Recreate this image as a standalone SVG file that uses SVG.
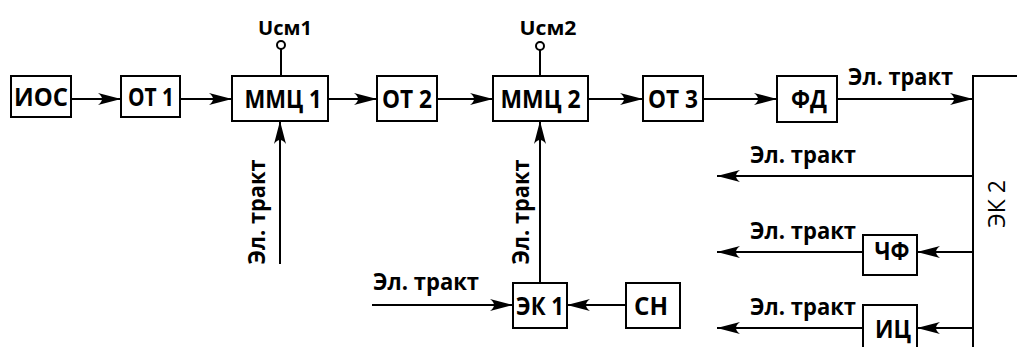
<svg xmlns="http://www.w3.org/2000/svg" width="1017" height="347" viewBox="0 0 1017 347">
<style>
.box{fill:#fff;stroke:#000;stroke-width:2}
.t{font-family:"Open Sans","Noto Sans",sans-serif;font-weight:700;font-size:25px;fill:#000;text-anchor:middle}
.lbl{font-family:"Open Sans","Noto Sans",sans-serif;font-weight:700;font-size:23px;fill:#000}
.rl{font-family:"Open Sans","Noto Sans",sans-serif;font-weight:700;font-size:23px;fill:#000;text-anchor:middle}
.u{font-family:"Open Sans","Noto Sans",sans-serif;font-weight:700;font-size:19px;fill:#000;text-anchor:middle}
.ek{font-family:"Open Sans","Noto Sans",sans-serif;font-weight:400;font-size:23px;fill:#000;text-anchor:middle}
.c{fill:none;stroke:#000;stroke-width:2}
.a{marker-end:url(#ah)}
</style>
<defs>
<marker id="ah" markerUnits="userSpaceOnUse" viewBox="0 0 23 12" refX="23" refY="6" markerWidth="23" markerHeight="12" orient="auto">
<path d="M23,6 L0,0 Q8,6 0,12 Z" fill="#000"/>
</marker>
</defs>
<rect width="1017" height="347" fill="#fff"/>
<g id="connectors">
<line class="c a" x1="71" y1="99" x2="121" y2="99"/>
<line class="c a" x1="180" y1="99" x2="232" y2="99"/>
<line class="c a" x1="328" y1="99" x2="377" y2="99"/>
<line class="c a" x1="437" y1="99" x2="493" y2="99"/>
<line class="c a" x1="588" y1="99" x2="643" y2="99"/>
<line class="c a" x1="703" y1="99" x2="777" y2="99"/>
<line class="c a" x1="837" y1="99" x2="973" y2="99"/>
<line class="c" x1="281" y1="49" x2="281" y2="76"/>
<circle class="c" cx="281" cy="45" r="4" fill="#fff"/>
<line class="c" x1="540" y1="50" x2="540" y2="76"/>
<circle class="c" cx="540" cy="46" r="4" fill="#fff"/>
<line class="c a" x1="280" y1="264" x2="280" y2="121"/>
<line class="c a" x1="540" y1="283" x2="540" y2="121"/>
<line class="c a" x1="372" y1="305" x2="513" y2="305"/>
<line class="c a" x1="626" y1="305" x2="567" y2="305"/>
<line class="c a" x1="973" y1="176" x2="717" y2="176"/>
<line class="c a" x1="973" y1="252" x2="917" y2="252"/>
<line class="c a" x1="863" y1="252" x2="717" y2="252"/>
<line class="c a" x1="973" y1="328" x2="917" y2="328"/>
<line class="c a" x1="863" y1="328" x2="717" y2="328"/>
</g>
<g id="labels">
<text class="u" x="285" y="35" textLength="54" lengthAdjust="spacingAndGlyphs">Uсм1</text>
<text class="u" x="548" y="35" textLength="57" lengthAdjust="spacingAndGlyphs">Uсм2</text>
<text class="lbl" x="848" y="85" textLength="105" lengthAdjust="spacingAndGlyphs">Эл. тракт</text>
<text class="lbl" x="750" y="163" textLength="106" lengthAdjust="spacingAndGlyphs">Эл. тракт</text>
<text class="lbl" x="750" y="239" textLength="106" lengthAdjust="spacingAndGlyphs">Эл. тракт</text>
<text class="lbl" x="750" y="315" textLength="106" lengthAdjust="spacingAndGlyphs">Эл. тракт</text>
<text class="lbl" x="373" y="290" textLength="106" lengthAdjust="spacingAndGlyphs">Эл. тракт</text>
<text class="rl" transform="translate(265,212) rotate(-90)" textLength="105" lengthAdjust="spacingAndGlyphs">Эл. тракт</text>
<text class="rl" transform="translate(529,212) rotate(-90)" textLength="105" lengthAdjust="spacingAndGlyphs">Эл. тракт</text>
</g>
<g id="n-ios"><rect class="box" x="11" y="76" width="60" height="41"/><text class="t" x="41" y="105.5" textLength="54" lengthAdjust="spacingAndGlyphs">ИОС</text></g>
<g id="n-ot1"><rect class="box" x="121" y="76" width="59" height="41"/><text class="t" x="151" y="105.5" textLength="46" lengthAdjust="spacingAndGlyphs">ОТ 1</text></g>
<g id="n-mmc1"><rect class="box" x="232" y="76" width="96" height="45"/><text class="t" x="283" y="107.5" textLength="77" lengthAdjust="spacingAndGlyphs">ММЦ 1</text></g>
<g id="n-ot2"><rect class="box" x="377" y="76" width="60" height="45"/><text class="t" x="407" y="107.5" textLength="50" lengthAdjust="spacingAndGlyphs">ОТ 2</text></g>
<g id="n-mmc2"><rect class="box" x="493" y="76" width="95" height="45"/><text class="t" x="540.5" y="107.5" textLength="80" lengthAdjust="spacingAndGlyphs">ММЦ 2</text></g>
<g id="n-ot3"><rect class="box" x="643" y="76" width="60" height="45"/><text class="t" x="673" y="107.5" textLength="50" lengthAdjust="spacingAndGlyphs">ОТ 3</text></g>
<g id="n-fd"><rect class="box" x="777" y="76" width="60" height="46"/><text class="t" x="809" y="108" textLength="36" lengthAdjust="spacingAndGlyphs">ФД</text></g>
<g id="n-ek1"><rect class="box" x="513" y="283" width="54" height="45"/><text class="t" x="540" y="314.5" textLength="48" lengthAdjust="spacingAndGlyphs">ЭК 1</text></g>
<g id="n-sn"><rect class="box" x="626" y="283" width="54" height="45"/><text class="t" x="651" y="314.5" textLength="34" lengthAdjust="spacingAndGlyphs">СН</text></g>
<g id="n-chf"><rect class="box" x="863" y="235" width="54" height="40"/><text class="t" x="892" y="260" textLength="35" lengthAdjust="spacingAndGlyphs">ЧФ</text></g>
<g id="n-ic"><rect class="box" x="863" y="305" width="54" height="60"/><text class="t" x="893" y="338" textLength="36" lengthAdjust="spacingAndGlyphs">ИЦ</text></g>
<g id="n-ek2"><rect class="box" x="973" y="76" width="80" height="300"/><text class="ek" transform="translate(1005,204) rotate(-90)">ЭК 2</text></g>
</svg>
